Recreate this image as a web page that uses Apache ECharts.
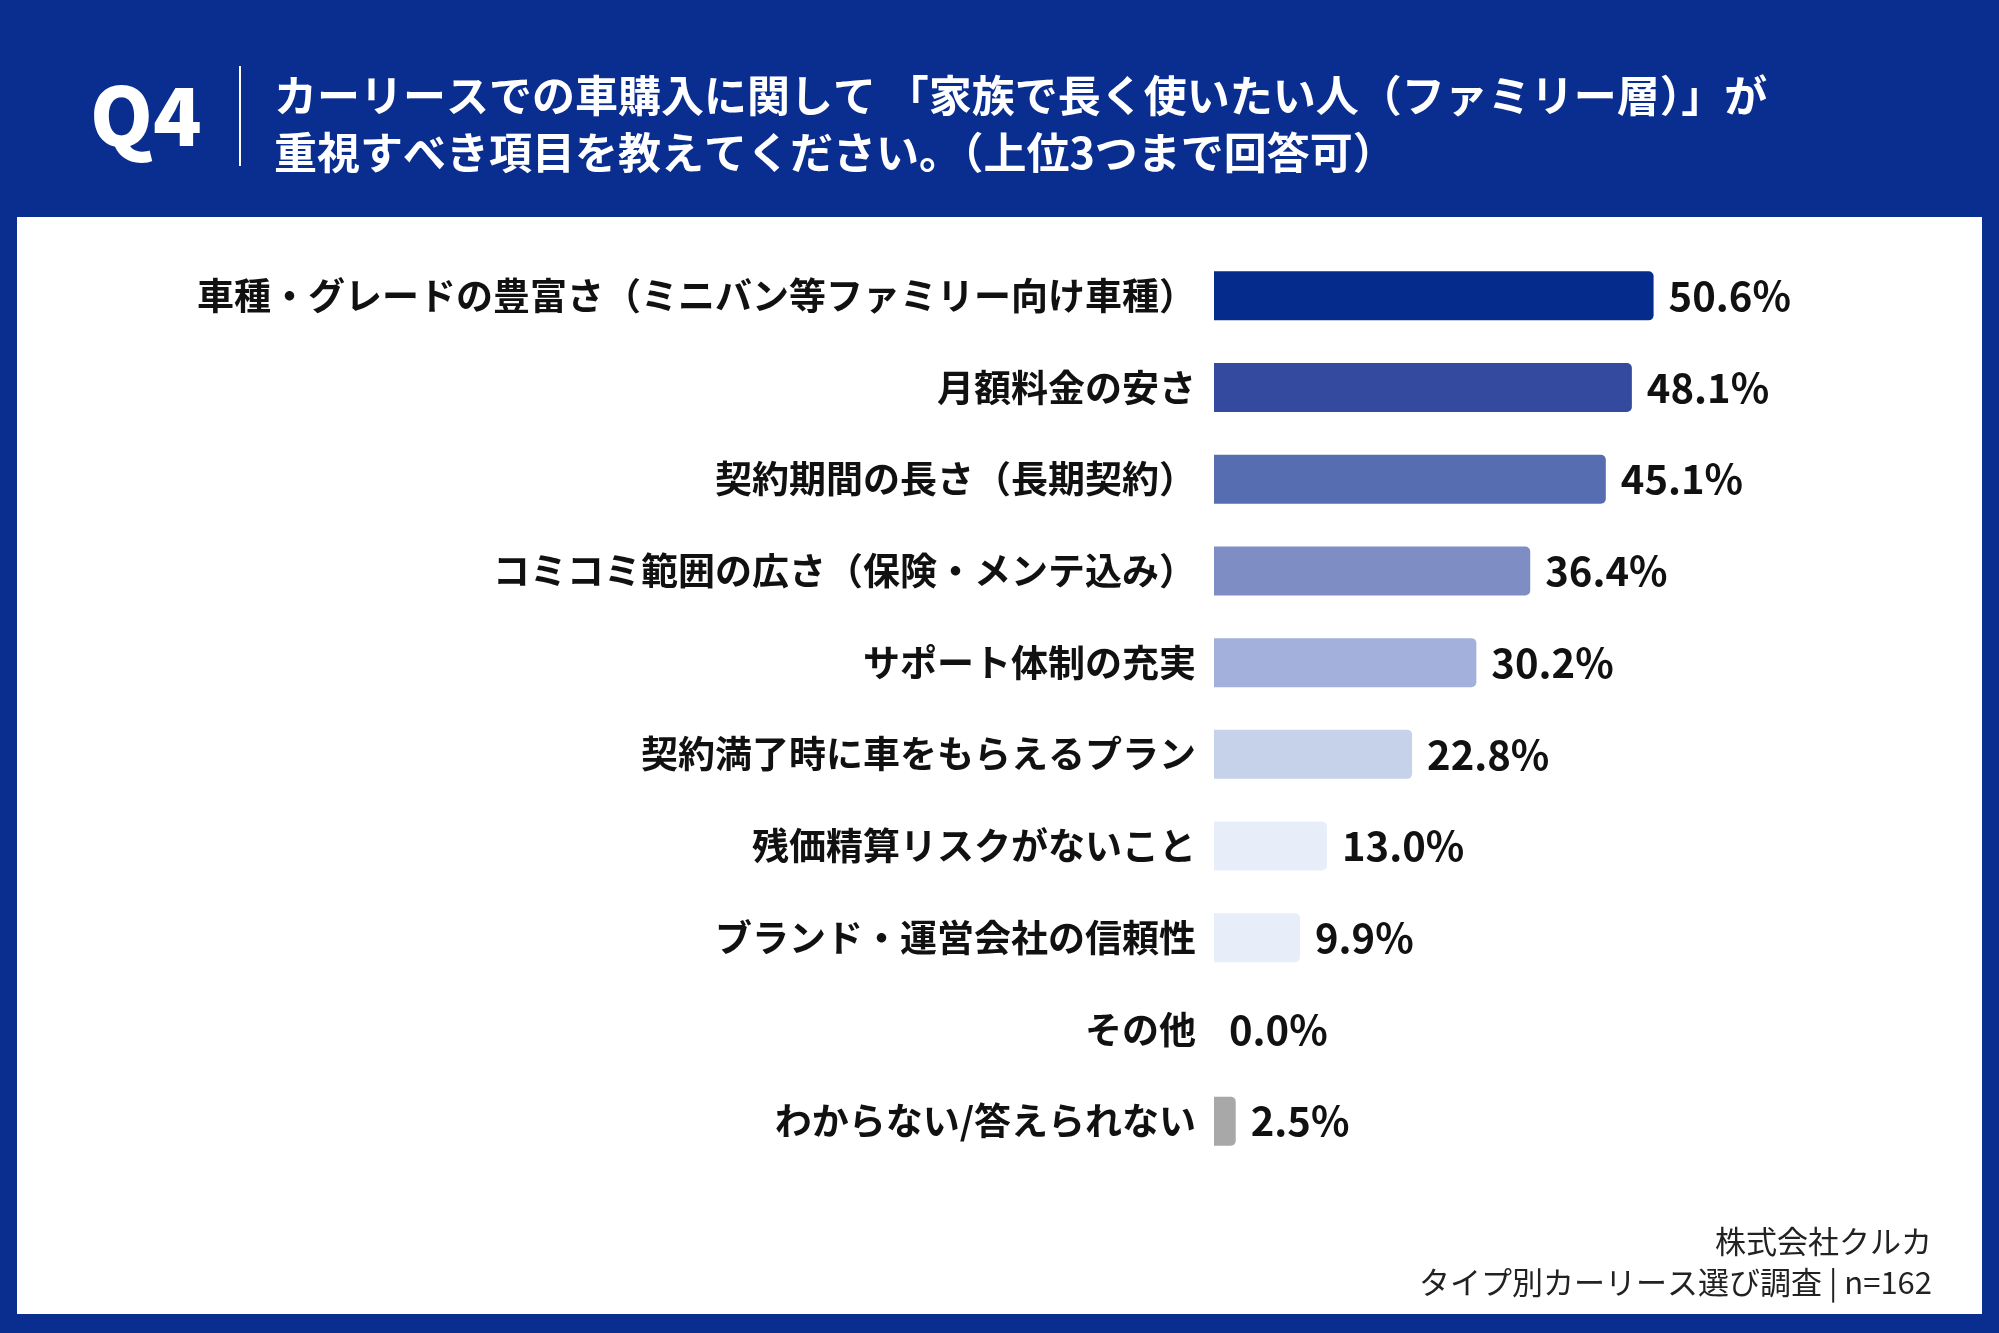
<!DOCTYPE html>
<html>
<head>
<meta charset="utf-8">
<script src="https://cdn.jsdelivr.net/npm/echarts@6/dist/echarts.min.js"></script>
<style>
  html, body { margin: 0; padding: 0; background: #0a2e8f; }
  #chart { width: 1999px; height: 1333px; }
</style>
</head>
<body>
<div id="chart"></div>
<script>
// 項目
const categories = [
  '車種・グレードの豊富さ（ミニバン等ファミリー向け車種）',
  '月額料金の安さ',
  '契約期間の長さ（長期契約）',
  'コミコミ範囲の広さ（保険・メンテ込み）',
  'サポート体制の充実',
  '契約満了時に車をもらえるプラン',
  '残価精算リスクがないこと',
  'ブランド・運営会社の信頼性',
  'その他',
  'わからない/答えられない'
];
// 回答率(%)
const values = [50.6, 48.1, 45.1, 36.4, 30.2, 22.8, 13.0, 9.9, 0.0, 2.5];

const titleLines = [
  'カーリースでの車購入に関して 「家族で長く使いたい人（ファミリー層）」が',
  '重視すべき項目を教えてください。（上位3つまで回答可）'
];
const sourceLines = ['株式会社クルカ', 'タイプ別カーリース選び調査 | n=162'];

const barColors = ['#052c8c', '#334a9f', '#566db1', '#7e8ec4', '#a3b0dc', '#c6d2ea', '#e8eef9', '#e7eef9', '#e7eef9', '#a8a8a8'];
const FONT = '"Noto Sans CJK JP", "Noto Sans", sans-serif';

let myChart = echarts.init(document.getElementById('chart'));
myChart.setOption({
  backgroundColor: '#0a2e8f',
  animation: false,
  grid: {
    left: 1214,
    right: 90,
    top: 250,
    bottom: 166,
    containLabel: false,
    outerBoundsMode: 'none'
  },
  xAxis: {
    type: 'value',
    min: 0,
    max: 80,
    show: false
  },
  yAxis: {
    type: 'category',
    inverse: true,
    data: categories,
    axisLine: { show: false },
    axisTick: { show: false },
    axisLabel: {
      margin: 18,
      color: '#111',
      fontSize: 37,
      fontWeight: 'bold',
      fontFamily: FONT
    }
  },
  graphic: [
    // 白いパネル
    {
      type: 'rect', z: -10, silent: true,
      shape: { x: 17, y: 217, width: 1965, height: 1097 },
      style: { fill: '#ffffff' }
    },
    {
      type: 'text', left: 90, top: 76,
      style: { text: 'Q4', fill: '#fff', font: '900 80px ' + FONT }
    },
    {
      type: 'rect', silent: true,
      shape: { x: 239, y: 66, width: 2, height: 100 },
      style: { fill: '#ffffff' }
    },
    {
      type: 'text', left: 274, top: 74,
      style: { text: titleLines[0], fill: '#fff', font: 'bold 43px ' + FONT }
    },
    {
      type: 'text', left: 274, top: 131,
      style: { text: titleLines[1], fill: '#fff', font: 'bold 43px ' + FONT }
    },
    {
      type: 'text', right: 67, top: 1226,
      style: { text: sourceLines[0], fill: '#222', font: '31px ' + FONT, textAlign: 'right' }
    },
    {
      type: 'text', right: 67, top: 1267,
      style: { text: sourceLines[1], fill: '#222', font: '31px ' + FONT, textAlign: 'right' }
    }
  ],
  series: [{
    type: 'bar',
    data: values,
    barWidth: 49,
    itemStyle: {
      borderRadius: [0, 5, 5, 0],
      color: (params) => barColors[params.dataIndex]
    },
    label: {
      show: true,
      position: 'right',
      distance: 15,
      color: '#111',
      fontSize: 40,
      fontWeight: 'bold',
      fontFamily: FONT,
      formatter: (params) => params.value.toFixed(1) + '%'
    }
  }]
});
window.addEventListener('resize', () => myChart.resize());
</script>
</body>
</html>
